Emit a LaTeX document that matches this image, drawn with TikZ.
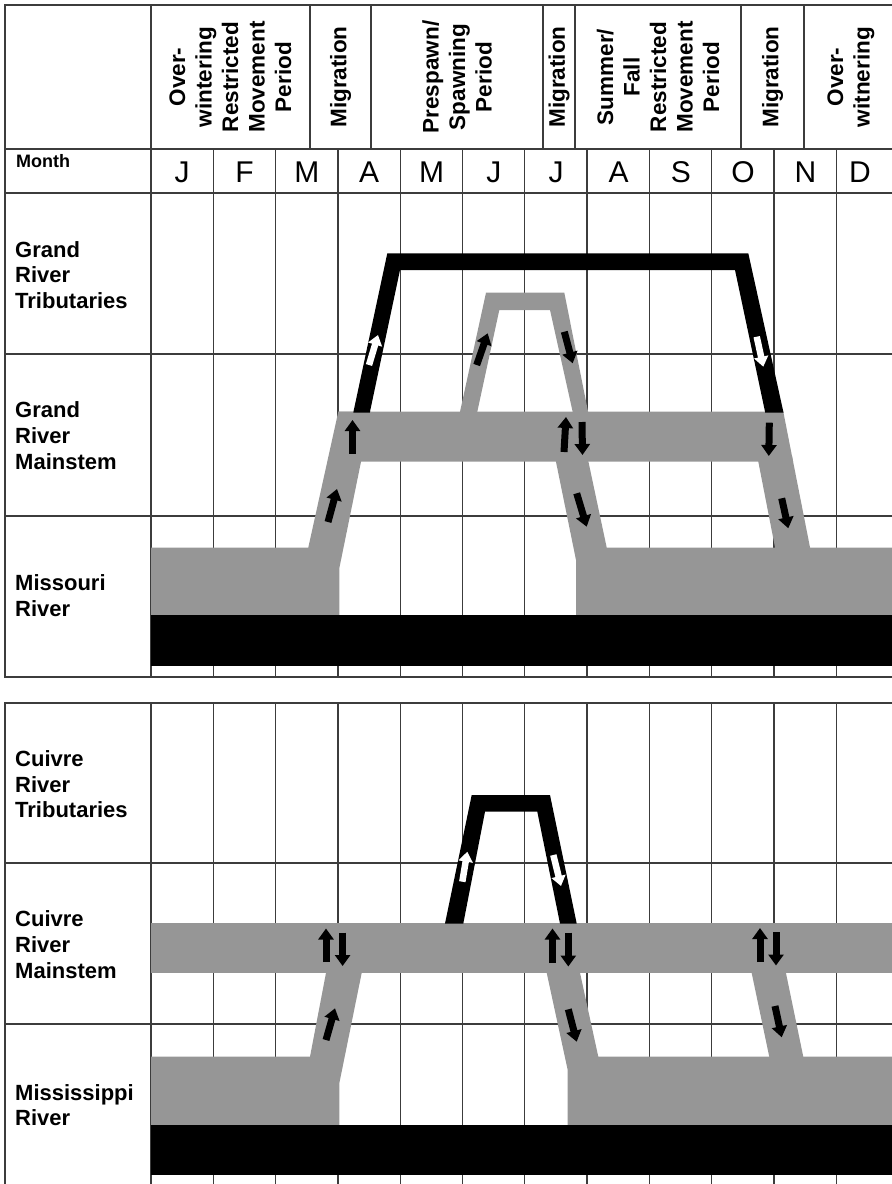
\documentclass[tikz,border=0pt]{standalone}
\usepackage{fontspec}
\setmainfont{Liberation Sans}
\usetikzlibrary{arrows.meta}
\definecolor{bandgray}{RGB}{150,150,150}
\definecolor{gridcol}{RGB}{60,60,60}
\begin{document}
\begin{tikzpicture}[x=1pt,y=-1pt,
  grid/.style={line width=1.3pt, draw=gridcol},
  band/.style={fill=bandgray},
  route/.style={fill=black},
  blk/.style={line width=7pt, draw=black, -{Triangle[length=11pt,width=15pt]}},
  wht/.style={line width=6.5pt, draw=white, -{Triangle[length=10pt,width=14pt]}},
  lab/.style={font=\fontsize{22}{25.5}\selectfont\bfseries, anchor=base west, inner sep=0pt},
  monthlab/.style={font=\fontsize{18}{20}\selectfont\bfseries, anchor=base west, inner sep=0pt},
  hdr/.style={font=\fontsize{22.5}{26.5}\selectfont\bfseries, rotate=90, align=center, inner sep=0pt},
  mon/.style={font=\fontsize{30}{32}\selectfont, anchor=base, inner sep=0pt}
]
\useasboundingbox (0,0) rectangle (892,1184);
\clip (0,0) rectangle (892,1184);

% ---------- grid ----------
\foreach \y in {5,149,193,354,516,677,703,863,1024} \draw[grid] (4,\y) -- (892,\y);
\draw[grid] (5,5) -- (5,677);
\draw[grid] (151,5) -- (151,677);
\draw[grid] (5,703) -- (5,1184);
\draw[grid] (151,703) -- (151,1184);
\foreach \x in {310,371,543,575,741,804} \draw[grid] (\x,5) -- (\x,149);
\foreach \i [evaluate=\i as \xx using 151+62.3*\i] in {1,...,11} {
  \draw[grid] (\xx,149) -- (\xx,677);
  \draw[grid] (\xx,703) -- (\xx,1184);
}

% ---------- header ----------
\node[hdr] (h1) at (230.5,77) {Over-\\wintering\\Restricted\\Movement\\Period};
\node[hdr] (h2) at (340.5,77) {Migration};
\node[hdr] (h3) at (457,77) {Prespawn/\\Spawning\\Period};
\node[hdr] (h4) at (559,77) {Migration};
\node[hdr] (h5) at (658,77) {Summer/\\Fall\\Restricted\\Movement\\Period};
\node[hdr] (h6) at (772.5,77) {Migration};
\node[hdr] (h7) at (851,77) {Over-\\witnering};

\node[monthlab] (month) at (16,167.7) {Month};
\node[mon] (m1) at (182.2,182.5) {J};
\node[mon] (m2) at (244.5,182.5) {F};
\node[mon] (m3) at (306.8,182.5) {M};
\node[mon] (m4) at (369.2,182.5) {A};
\node[mon] (m5) at (431.5,182.5) {M};
\node[mon] (m6) at (493.8,182.5) {J};
\node[mon] (m7) at (556.1,182.5) {J};
\node[mon] (m8) at (618.5,182.5) {A};
\node[mon] (m9) at (680.8,182.5) {S};
\node[mon] (m10) at (743.1,182.5) {O};
\node[mon] (m11) at (805.5,182.5) {N};
\node[mon] (m12) at (860,182.5) {D};

% ---------- top panel: Grand River ----------
\fill[band] (151,547.5) -- (308.3,547.5) -- (338.3,411.7) -- (371.2,411.7) -- (339.3,568.3) -- (339.3,615) -- (151,615) -- cycle;
\fill[band] (338.3,411.7) -- (783.3,411.7) -- (793.1,461.7) -- (338.3,461.7) -- cycle;
\fill[band] (554.6,455) -- (587,455) -- (606.7,547.5) -- (892,547.5) -- (892,615) -- (576,615) -- (576,560) -- cycle;
\fill[band] (757,455) -- (791.8,455) -- (811.5,555) -- (776.5,555) -- cycle;
\fill[band] (458.2,420) -- (486,292.7) -- (564.3,292.7) -- (589.7,420) -- (574.5,420) -- (550,310) -- (499.3,310) -- (475.5,420) -- cycle;
\fill[route] (151,615) rectangle (892,666);
\fill[route] (353.3,412.5) -- (387.3,253.3) -- (748.3,253.3) -- (783.5,412.5) -- (765.2,412.5) -- (735,270) -- (400,270) -- (369.8,412.5) -- cycle;

\draw[blk] (328,522) -- (337,489);
\draw[blk] (352.5,453.5) -- (352.5,420);
\draw[wht] (369,365) -- (378,335);
\draw[blk] (476.7,365) -- (487.7,333.3);
\draw[blk] (564.3,331.7) -- (572.7,363.3);
\draw[blk] (564,452) -- (566,417);
\draw[blk] (582,422) -- (582.5,455);
\draw[blk] (576.7,493.3) -- (586.7,526.7);
\draw[wht] (756.7,336.7) -- (763.3,366.7);
\draw[blk] (769.3,422.7) -- (768.8,456);
\draw[blk] (781.7,498.3) -- (788.3,528.3);

% ---------- bottom panel: Cuivre River ----------
\fill[band] (151,922.7) rectangle (892,972.7);
\fill[band] (151,1056.7) -- (310,1056.7) -- (327.5,965) -- (363.3,965) -- (339.3,1083.3) -- (339.3,1125) -- (151,1125) -- cycle;
\fill[band] (545,965) -- (578.3,965) -- (598.3,1056.7) -- (892,1056.7) -- (892,1125) -- (567.7,1125) -- (567.7,1070) -- cycle;
\fill[band] (750,965) -- (784.3,965) -- (805,1065) -- (771,1065) -- cycle;
\fill[route] (151,1125) rectangle (892,1175);
\fill[route] (445,923.5) -- (471.7,795) -- (550,795) -- (576.7,923.5) -- (560,923.5) -- (537.3,811.7) -- (485,811.7) -- (463.3,923.5) -- cycle;

\draw[blk] (326,1040) -- (335,1008.3);
\draw[blk] (326,962) -- (326,928.5);
\draw[blk] (342.6,932.5) -- (342.6,966);
\draw[wht] (462.3,881.7) -- (467.3,851.7);
\draw[wht] (553.3,855) -- (561,886);
\draw[blk] (552.5,963) -- (552.5,928.5);
\draw[blk] (568.3,932.7) -- (568.3,966.5);
\draw[blk] (568.3,1009.3) -- (576.7,1041.7);
\draw[blk] (760,962) -- (760,928);
\draw[blk] (776,932) -- (776,965.5);
\draw[blk] (775,1006) -- (781.7,1037.3);

% ---------- row labels ----------
\node[lab] (grt1) at (15,257.3) {Grand};
\node[lab] (grt2) at (15,282.8) {River};
\node[lab] (grt3) at (15,308.3) {Tributaries};
\node[lab] (grm1) at (15,417) {Grand};
\node[lab] (grm2) at (15,443) {River};
\node[lab] (grm3) at (15,469) {Mainstem};
\node[lab] (mor1) at (15,590.7) {Missouri};
\node[lab] (mor2) at (15,616.5) {River};
\node[lab] (crt1) at (15,766) {Cuivre};
\node[lab] (crt2) at (15,792) {River};
\node[lab] (crt3) at (15,817.7) {Tributaries};
\node[lab] (crm1) at (15,926) {Cuivre};
\node[lab] (crm2) at (15,952.5) {River};
\node[lab] (crm3) at (15,978) {Mainstem};
\node[lab] (msr1) at (15,1100) {Mississippi};
\node[lab] (msr2) at (15,1125.7) {River};
\end{tikzpicture}
\end{document}
